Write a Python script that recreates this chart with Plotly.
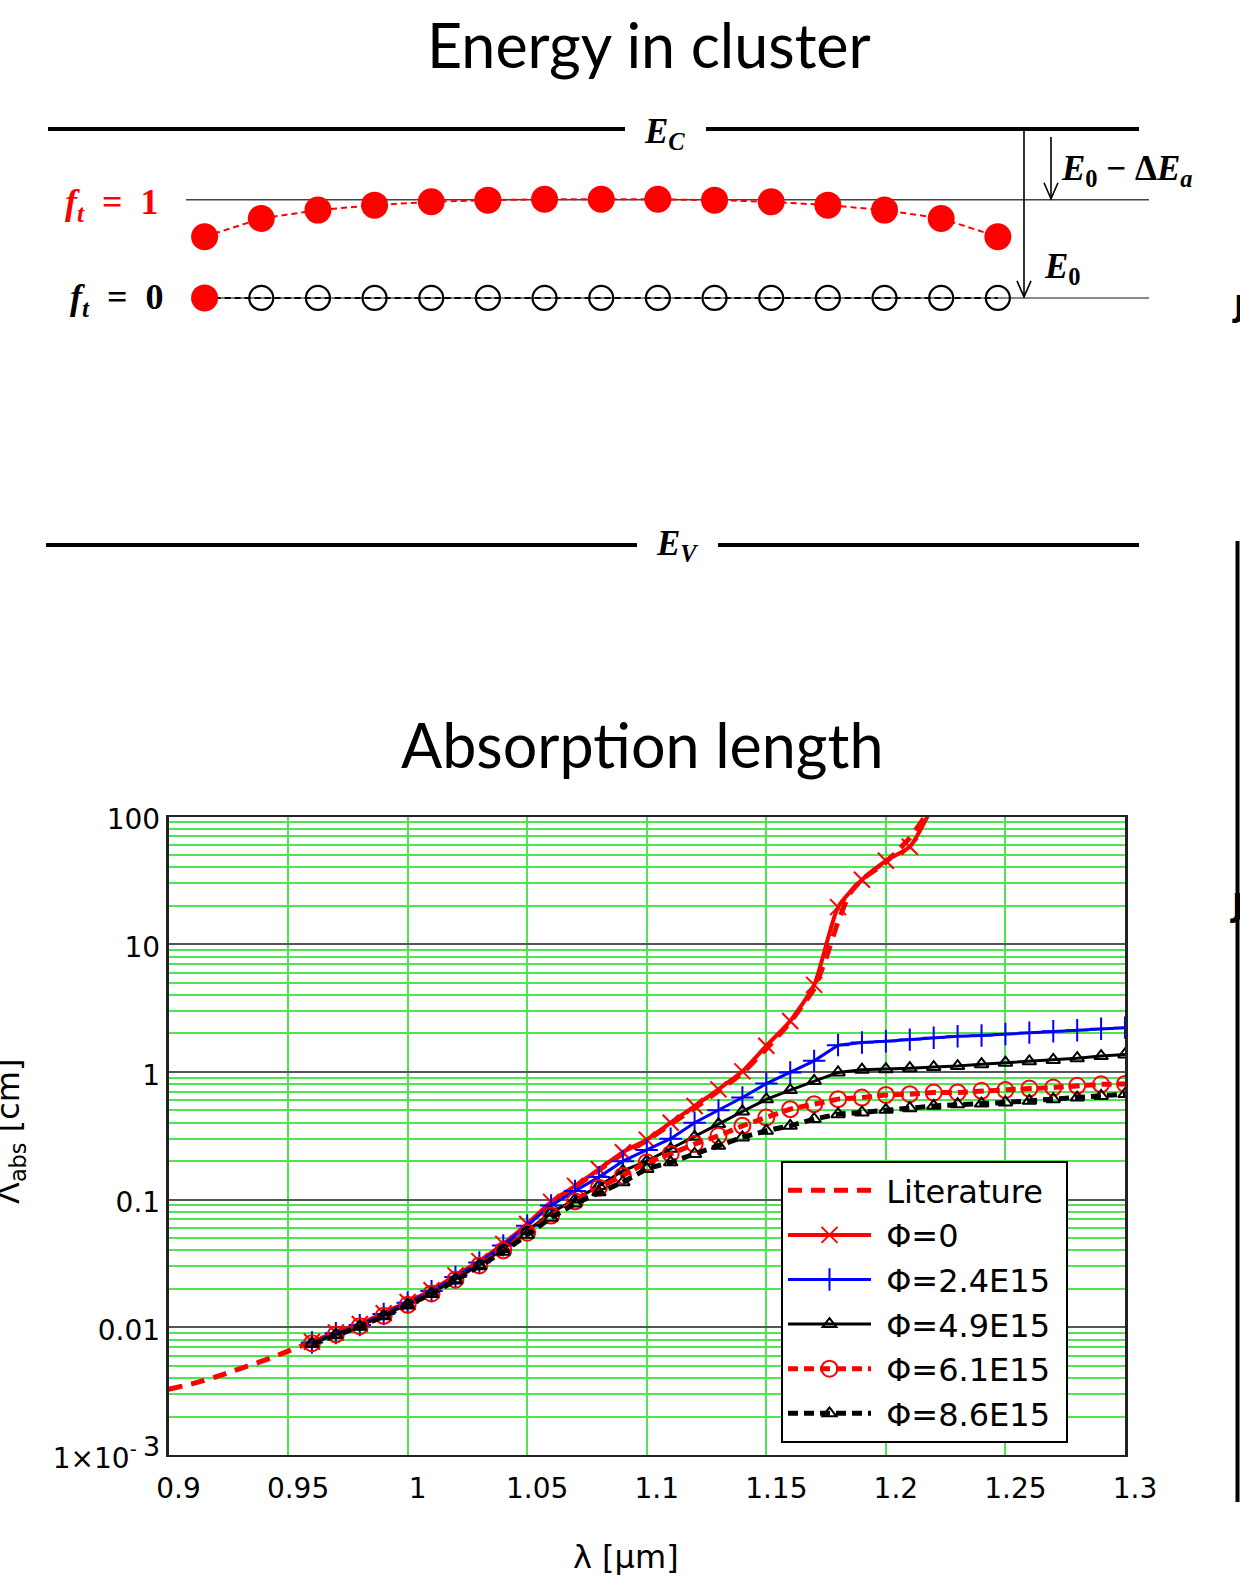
import plotly.graph_objects as go

W, H = 1240, 1581

# ---------------- Data: absorption length (lambda in um, length in cm) ----------------
lit_wl = [0.90, 0.91, 0.92, 0.93, 0.94, 0.95, 0.96, 0.97, 0.98, 0.99, 1.00, 1.01, 1.02,
          1.03, 1.04, 1.05, 1.06, 1.07, 1.08, 1.09, 1.10, 1.11, 1.12, 1.13, 1.14, 1.15,
          1.16, 1.165, 1.17, 1.175, 1.18, 1.185, 1.19, 1.20, 1.21, 1.2165, 1.225]
lit_len = [0.00327, 0.00362, 0.00410, 0.00475, 0.00550, 0.00650, 0.00770, 0.00900, 0.01050,
           0.01280, 0.01570, 0.01940, 0.02480, 0.03220, 0.04400, 0.06350, 0.09300, 0.126,
           0.170, 0.228, 0.290, 0.390, 0.520, 0.710, 0.980, 1.52, 2.45, 3.3, 4.5, 7.8, 15.0,
           25.0, 32.0, 44.0, 68.0, 100.0, 150.0]

phi0_wl = [0.96, 0.97, 0.98, 0.99, 1.00, 1.01, 1.02, 1.03, 1.04, 1.05, 1.06, 1.07, 1.08,
           1.09, 1.10, 1.11, 1.12, 1.13, 1.14, 1.15, 1.16, 1.17, 1.18, 1.19, 1.20, 1.21, 1.22]
phi0_len = [0.0077, 0.0091, 0.0106, 0.0129, 0.0158, 0.0195, 0.0255, 0.0330, 0.0450, 0.0645,
            0.0960, 0.128, 0.173, 0.235, 0.295, 0.400, 0.540, 0.730, 1.01, 1.60, 2.50, 4.8,
            19.5, 32.0, 45.0, 58.0, 125.0]

irr_wl = [0.96, 0.97, 0.98, 0.99, 1.00, 1.01, 1.02, 1.03, 1.04, 1.05, 1.06, 1.07, 1.08, 1.09,
          1.10, 1.11, 1.12, 1.13, 1.14, 1.15, 1.16, 1.17, 1.18, 1.19, 1.20, 1.21, 1.22, 1.23,
          1.24, 1.25, 1.26, 1.27, 1.28, 1.29, 1.30]
phi24_len = [0.0076, 0.0090, 0.0104, 0.0127, 0.0156, 0.0192, 0.0248, 0.0322, 0.0438, 0.0625,
             0.0900, 0.117, 0.150, 0.200, 0.245, 0.300, 0.400, 0.500, 0.630, 0.810, 0.990,
             1.22, 1.62, 1.70, 1.74, 1.79, 1.85, 1.90, 1.93, 1.98, 2.03, 2.08, 2.12, 2.18, 2.22]
phi49_len = [0.0075, 0.0088, 0.0102, 0.0124, 0.0151, 0.0185, 0.0238, 0.0308, 0.0410, 0.0570,
             0.0790, 0.100, 0.128, 0.168, 0.200, 0.250, 0.310, 0.390, 0.490, 0.610, 0.720,
             0.850, 0.990, 1.04, 1.05, 1.07, 1.09, 1.11, 1.15, 1.18, 1.21, 1.24, 1.28, 1.33, 1.37]
phi61_len = [0.0075, 0.0088, 0.0102, 0.0123, 0.0150, 0.0184, 0.0236, 0.0305, 0.0400, 0.0550,
             0.0750, 0.097, 0.124, 0.154, 0.196, 0.228, 0.272, 0.316, 0.378, 0.440, 0.511,
             0.559, 0.612, 0.630, 0.660, 0.669, 0.689, 0.690, 0.711, 0.720, 0.741, 0.754,
             0.778, 0.800, 0.805]
phi86_len = [0.0074, 0.0087, 0.0101, 0.0122, 0.0148, 0.0182, 0.0233, 0.0300, 0.0390, 0.0530,
             0.0720, 0.093, 0.114, 0.137, 0.174, 0.196, 0.228, 0.264, 0.307, 0.346, 0.378,
             0.427, 0.467, 0.481, 0.505, 0.520, 0.542, 0.559, 0.565, 0.576, 0.594, 0.612,
             0.630, 0.649, 0.670]

x_tickvals = [0.9, 0.95, 1.0, 1.05, 1.1, 1.15, 1.2, 1.25, 1.3]
x_ticktext = ["0.9", "0.95", "1", "1.05", "1.1", "1.15", "1.2", "1.25", "1.3"]
y_tickvals = [0.001, 0.01, 0.1, 1, 10, 100]
y_ticktext = ["1×10<sup>- <span style='font-size:27px'>3</span></sup>", "0.01", "0.1", "1", "10", "100"]

# ---------------- Data: energy diagram (E_V = 0, E_C = 1) ----------------
trap_index = [1, 2, 3, 4, 5, 6, 7, 8, 9, 10, 11, 12, 13, 14, 15]
occupied_level = [0.741, 0.785, 0.805, 0.817, 0.825, 0.829, 0.831, 0.831, 0.831, 0.829,
                  0.825, 0.817, 0.805, 0.785, 0.741]
empty_level = [0.594] * 15
empty_filled = [True] + [False] * 14
E_C, E_V = 1.0, 0.0
E_ft1, E_ft0 = 0.830, 0.594


# ---------------- helpers (pixel -> paper / axis units) ----------------
def px_x(x):
    return x / W


def px_y(y):
    return 1 - y / H


DOT0, DOTSTEP = 204.6, 56.66


def idx_of(xp):
    return 1 + (xp - DOT0) / DOTSTEP


def ypx_of_E(E):
    return 545 - 416 * E


RED = "#ff0000"
BLUE = "#0000ff"
BLK = "#000000"
GREEN = "rgb(80,228,80)"
TICKFONT = dict(family="DejaVu Sans", size=28, color=BLK)
SERIF = "Liberation Serif"
NB = "\u00a0"


def lname(s):
    return NB + s + NB


fig = go.Figure()

# ---------------- absorption length traces ----------------
fig.add_trace(go.Scatter(x=lit_wl, y=lit_len, mode="lines", name=lname("Literature"),
                         line=dict(color=RED, width=5, dash="14px,9px", shape="spline",
                                   smoothing=0.6)))
fig.add_trace(go.Scatter(x=phi0_wl, y=phi0_len, mode="lines+markers", name=lname("Φ=0"),
                         line=dict(color=RED, width=4, shape="spline", smoothing=0.6),
                         marker=dict(symbol="x-thin-open", size=16, color=RED,
                                     line=dict(color=RED, width=2))))
fig.add_trace(go.Scatter(x=irr_wl, y=phi24_len, mode="lines+markers", name=lname("Φ=2.4E15"),
                         line=dict(color=BLUE, width=3),
                         marker=dict(symbol="cross-thin-open", size=16, color=BLUE,
                                     line=dict(color=BLUE, width=2))))
fig.add_trace(go.Scatter(x=irr_wl, y=phi49_len, mode="lines+markers", name=lname("Φ=4.9E15"),
                         line=dict(color=BLK, width=3),
                         marker=dict(symbol="triangle-up-open", size=12, color=BLK,
                                     line=dict(color=BLK, width=2))))
fig.add_trace(go.Scatter(x=irr_wl, y=phi61_len, mode="lines+markers", name=lname("Φ=6.1E15"),
                         line=dict(color=RED, width=5, dash="10px,6px"),
                         marker=dict(symbol="circle-open", size=16, color=RED,
                                     line=dict(color=RED, width=2))))
fig.add_trace(go.Scatter(x=irr_wl, y=phi86_len, mode="lines+markers", name=lname("Φ=8.6E15"),
                         line=dict(color=BLK, width=5, dash="10px,6px"),
                         marker=dict(symbol="triangle-up-open", size=12, color=BLK,
                                     line=dict(color=BLK, width=2))))

# ---------------- energy diagram traces ----------------
fig.add_trace(go.Scatter(x=trap_index, y=occupied_level, mode="lines+markers", xaxis="x2",
                         yaxis="y2", showlegend=False, hoverinfo="skip",
                         line=dict(color=RED, width=2, dash="6px,4px"),
                         marker=dict(symbol="circle", size=27, color=RED, opacity=1)))
fig.add_trace(go.Scatter(x=trap_index, y=empty_level, mode="lines", xaxis="x2",
                         yaxis="y2", showlegend=False, hoverinfo="skip",
                         line=dict(color=BLK, width=2, dash="6px,4px")))
fig.add_trace(go.Scatter(x=[i for i, f in zip(trap_index, empty_filled) if not f],
                         y=[e for e, f in zip(empty_level, empty_filled) if not f],
                         mode="markers", xaxis="x2", yaxis="y2", showlegend=False,
                         hoverinfo="skip",
                         marker=dict(symbol="circle-open", size=24, color=BLK,
                                     line=dict(color=BLK, width=2.2))))
fig.add_trace(go.Scatter(x=[i for i, f in zip(trap_index, empty_filled) if f],
                         y=[e for e, f in zip(empty_level, empty_filled) if f],
                         mode="markers", xaxis="x2", yaxis="y2", showlegend=False,
                         hoverinfo="skip",
                         marker=dict(symbol="circle", size=27, color=RED, opacity=1,
                                     line=dict(width=0))))

shapes = []
# band edges
for (x0, x1, e) in [(48, 625, E_C), (706, 1139, E_C), (46, 637, E_V), (718, 1139, E_V)]:
    shapes.append(dict(type="line", xref="x2", yref="y2", x0=idx_of(x0), x1=idx_of(x1),
                       y0=e, y1=e, line=dict(color=BLK, width=4), layer="below"))
# trap reference levels
shapes.append(dict(type="line", xref="x2", yref="y2", x0=idx_of(186), x1=idx_of(1149),
                   y0=E_ft1, y1=E_ft1, line=dict(color="#444444", width=1.5), layer="below"))
shapes.append(dict(type="line", xref="x2", yref="y2", x0=idx_of(204), x1=idx_of(1149),
                   y0=E_ft0, y1=E_ft0, line=dict(color="#888888", width=2), layer="below"))


def arrow(xp, y_top, y_tip):
    out = [dict(type="line", xref="paper", yref="paper", x0=px_x(xp), x1=px_x(xp),
                y0=px_y(y_top), y1=px_y(y_tip), line=dict(color=BLK, width=1.6))]
    path = "M {:.5f},{:.5f} L {:.5f},{:.5f} L {:.5f},{:.5f}".format(
        px_x(xp - 7), px_y(y_tip - 16), px_x(xp), px_y(y_tip), px_x(xp + 7), px_y(y_tip - 16))
    out.append(dict(type="path", xref="paper", yref="paper", path=path,
                    line=dict(color=BLK, width=1.6)))
    return out


shapes += arrow(1024, ypx_of_E(E_C), ypx_of_E(E_ft0) - 1)
shapes += arrow(1051, 137, ypx_of_E(E_ft1) - 1)
# cut-off frame line of neighbouring panel at the right border
shapes.append(dict(type="line", xref="paper", yref="paper", x0=px_x(1237.5), x1=px_x(1237.5),
                   y0=px_y(541), y1=px_y(1502), line=dict(color=BLK, width=4)))

annotations = []


def label(text, xp, yp, size, color=BLK, family=SERIF, xanchor="center", angle=0):
    annotations.append(dict(text=text, x=px_x(xp), y=px_y(yp), xref="paper", yref="paper",
                            showarrow=False, xanchor=xanchor, yanchor="middle", textangle=angle,
                            font=dict(family=family, size=size, color=color)))


label("Energy in cluster", 649, 45, 61, family="Lato")
label("Absorption length", 642, 744, 61, family="Lato")
label("<b><i>E</i><sub><i>C</i></sub></b>", 664, 134, 35)
label("<b><i>E</i><sub><i>V</i></sub></b>", 677, 545, 35)
label("<b><i>E</i><sub>0</sub> − Δ<i>E</i><sub><i>a</i></sub></b>", 1059, 170, 35, xanchor="left")
label("<b><i>E</i><sub>0</sub></b>", 1062, 268, 35)
label("<b><i>f</i><sub><i>t</i></sub>\u2002=\u20021</b>", 161, 204, 36, color=RED, xanchor="right")
label("<b><i>f</i><sub><i>t</i></sub>\u2002=\u20020</b>", 166, 300, 36, xanchor="right")
label("λ [μm]", 626, 1557, 32, family="DejaVu Sans")
label("Λ<sub>abs</sub> [cm]", 10, 1132, 32, family="DejaVu Sans", angle=-90)
# cut-off glyphs of the neighbouring panel at the right border
label("<b>J</b>", 1238, 306, 30, family="DejaVu Sans")
label("<b>J</b>", 1237, 905, 32, family="DejaVu Sans")

x_left, x_right = 168.5, 1125
y_top, y_bot = 816.5, 1455

fig.update_layout(
    width=W, height=H, autosize=False,
    margin=dict(l=0, r=0, t=0, b=0, pad=0, autoexpand=False),
    paper_bgcolor="white", plot_bgcolor="white",
    showlegend=True,
    xaxis=dict(domain=[px_x(x_left), px_x(x_right)], anchor="y", range=[0.9, 1.3],
               tickvals=x_tickvals, ticktext=x_ticktext, tickfont=TICKFONT, automargin=False,
               ticks="", showgrid=True, gridcolor=GREEN, gridwidth=1.5, zeroline=False,
               showline=True, linecolor="#222222", linewidth=2, mirror=True,
               ticklabelstandoff=7, ticklabelshift=10),
    yaxis=dict(domain=[px_y(y_bot), px_y(y_top)], anchor="x", type="log", range=[-3, 2],
               tickvals=y_tickvals, ticktext=y_ticktext, tickfont=TICKFONT, automargin=False,
               ticks="", showgrid=True, gridcolor="#555555", gridwidth=1.5, zeroline=False,
               showline=True, linecolor="#222222", linewidth=2.5, mirror=True,
               ticklabelstandoff=0, ticklabelshift=3,
               minor=dict(dtick="D1", showgrid=True, gridcolor=GREEN, gridwidth=1.5, ticks="")),
    xaxis2=dict(domain=[0, 1], anchor="y2", range=[idx_of(0), idx_of(W)], visible=False,
                fixedrange=True, automargin=False),
    yaxis2=dict(domain=[px_y(620), 1], anchor="x2", automargin=False,
                range=[(545 - 620) / 416, 545 / 416], visible=False, fixedrange=True),
    legend=dict(x=px_x(781), y=px_y(1161), xanchor="left", yanchor="top",
                bgcolor="white", bordercolor=BLK, borderwidth=2,
                font=dict(family="DejaVu Sans", size=32, color=BLK),
                itemwidth=83, tracegroupgap=0),
    shapes=shapes, annotations=annotations,
)

fig.write_html("out.html", config={"displayModeBar": False, "responsive": False},
               post_script="document.body.style.margin='0';document.body.style.overflow='hidden';")
